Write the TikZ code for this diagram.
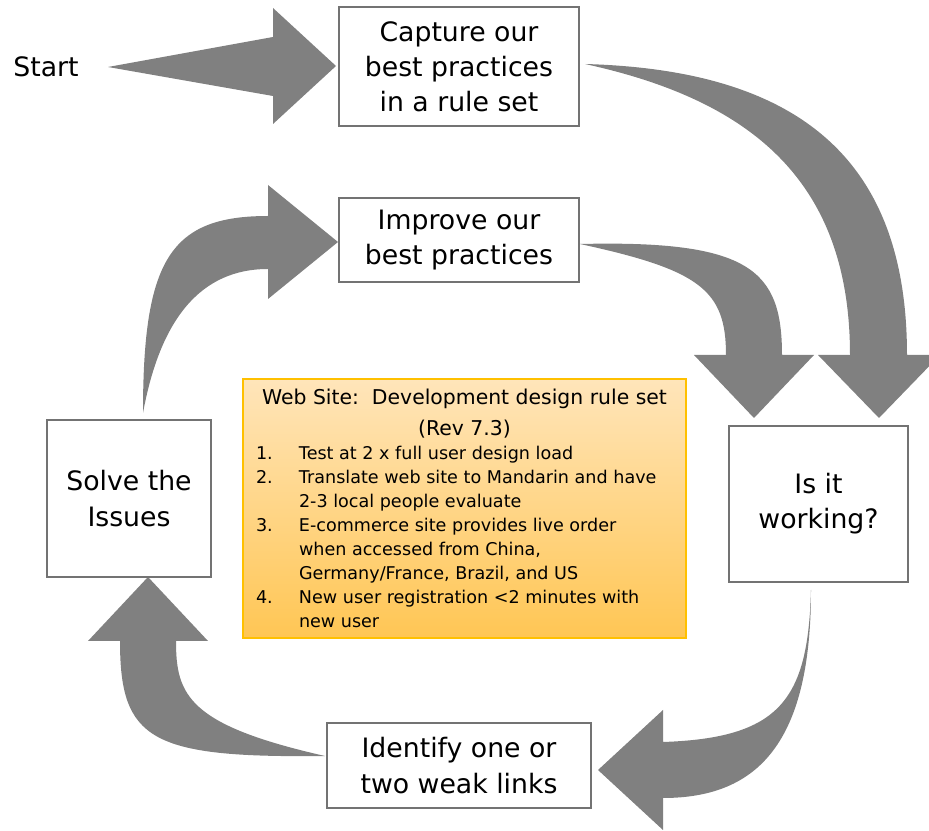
\documentclass[tikz,border=0pt]{standalone}
\usepackage{fontspec}
\setmainfont{DejaVu Sans}
\usepackage{tkz-euclide}

\definecolor{arrowgray}{RGB}{128,128,128}
\definecolor{boxline}{RGB}{115,115,115}
\definecolor{ruleTop}{RGB}{255,229,186}
\definecolor{ruleBot}{RGB}{255,198,84}
\definecolor{ruleLine}{RGB}{255,192,0}

\begin{document}
\begin{tikzpicture}[
  box/.style={draw=boxline,line width=.45pt,fill=white,align=center,inner sep=0pt,
    font=\fontsize{7.6}{10}\selectfont},
  txt/.style={inner sep=0pt,font=\fontsize{7.6}{10}\selectfont},
  rulebox/.style={draw=ruleLine,line width=.5pt,top color=ruleTop,bottom color=ruleBot,
    minimum width=4.43cm,minimum height=2.59cm,inner sep=0pt},
  blockarrow/.style={fill=arrowgray,draw=none}]
\useasboundingbox (0,0) rectangle (9.29,8.31);
\clip (0,0) rectangle (9.29,8.31);

\tkzDefPoint(0.46,7.64){tStart}
\tkzDefPoint(4.59,7.645){tCap}
\tkzDefPoint(4.59,5.91){tImp}
\tkzDefPoint(1.29,3.325){tSolve}
\tkzDefPoint(8.185,3.27){tWork}
\tkzDefPoint(4.59,0.655){tIdent}
\tkzDefPoint(4.645,3.225){tRules}

  \tkzDefPoint(1.08,7.64){sT}
  \tkzDefPoint(2.73,7.94){sA}
  \tkzDefPoint(2.73,8.23){sB}
  \tkzDefPoint(3.36,7.65){sTip}
  \tkzDefPoint(2.73,7.07){sC}
  \tkzDefPoint(2.73,7.35){sD}
\tkzFillPolygon[blockarrow](sT,sA,sB,sTip,sC,sD)

\tkzDefPoint(5.85,7.67){cT}
\tkzDefPoint(8.00,7.61){cO1}
\tkzDefPoint(9.07,6.71){cO2}
\tkzDefPoint(9.07,4.76){cO}
\tkzDefPoint(9.40,4.76){cHr}
\tkzDefPoint(8.79,4.13){cTip}
\tkzDefPoint(8.18,4.76){cHl}
\tkzDefPoint(8.50,4.76){cI}
\tkzDefPoint(8.50,6.51){cI1}
\tkzDefPoint(7.50,7.31){cI2}
  \fill[blockarrow] (cT) .. controls (cO1) and (cO2) .. (cO) -- (cHr) -- (cTip)
    -- (cHl) -- (cI) .. controls (cI1) and (cI2) .. (cT) -- cycle;

\tkzDefPoint(5.80,5.87){iT}
\tkzDefPoint(7.50,5.91){iO1}
\tkzDefPoint(7.82,5.61){iO2}
\tkzDefPoint(7.82,4.76){iO}
\tkzDefPoint(8.14,4.76){iHr}
\tkzDefPoint(7.54,4.13){iTip}
\tkzDefPoint(6.94,4.76){iHl}
\tkzDefPoint(7.26,4.76){iI}
\tkzDefPoint(7.26,5.41){iI1}
\tkzDefPoint(7.00,5.61){iI2}
  \fill[blockarrow] (iT) .. controls (iO1) and (iO2) .. (iO) -- (iHr) -- (iTip)
    -- (iHl) -- (iI) .. controls (iI1) and (iI2) .. (iT) -- cycle;

\tkzDefPoint(8.11,2.41){wT}
\tkzDefPoint(8.11,0.91){wO1}
\tkzDefPoint(7.60,0.33){wO2}
\tkzDefPoint(6.63,0.33){wO}
\tkzDefPoint(6.63,0.01){wHb}
\tkzDefPoint(5.98,0.61){wTip}
\tkzDefPoint(6.63,1.21){wHt}
\tkzDefPoint(6.63,0.89){wI}
\tkzDefPoint(7.80,0.93){wI1}
\tkzDefPoint(8.08,1.31){wI2}
  \fill[blockarrow] (wT) .. controls (wO1) and (wO2) .. (wO) -- (wHb) -- (wTip)
    -- (wHt) -- (wI) .. controls (wI1) and (wI2) .. (wT) -- cycle;

\tkzDefPoint(3.25,0.75){dT}
\tkzDefPoint(1.50,0.73){dO1}
\tkzDefPoint(1.20,0.91){dO2}
\tkzDefPoint(1.20,1.90){dO}
\tkzDefPoint(0.88,1.90){dHl}
\tkzDefPoint(1.48,2.54){dTip}
\tkzDefPoint(2.08,1.90){dHr}
\tkzDefPoint(1.76,1.90){dI}
\tkzDefPoint(1.76,1.36){dI1}
\tkzDefPoint(1.88,1.06){dI2}
  \fill[blockarrow] (dT) .. controls (dO1) and (dO2) .. (dO) -- (dHl) -- (dTip)
    -- (dHr) -- (dI) .. controls (dI1) and (dI2) .. (dT) -- cycle;

\tkzDefPoint(1.43,4.18){uT}
\tkzDefPoint(1.43,5.71){uO1}
\tkzDefPoint(1.70,6.15){uO2}
\tkzDefPoint(2.68,6.15){uO}
\tkzDefPoint(2.68,6.46){uHt}
\tkzDefPoint(3.38,5.89){uTip}
\tkzDefPoint(2.68,5.32){uHb}
\tkzDefPoint(2.68,5.62){uI}
\tkzDefPoint(2.00,5.62){uI1}
\tkzDefPoint(1.60,5.11){uI2}
  \fill[blockarrow] (uT) .. controls (uO1) and (uO2) .. (uO) -- (uHt) -- (uTip)
    -- (uHb) -- (uI) .. controls (uI1) and (uI2) .. (uT) -- cycle;

\node[txt] (start) at (tStart) {Start};
\node[box,minimum width=2.40cm,minimum height=1.19cm] (capture) at (tCap)
  {Capture our\\best practices\\in a rule set};
\node[box,minimum width=2.40cm,minimum height=0.84cm] (improve) at (tImp)
  {Improve our\\best practices};
\node[box,minimum width=1.64cm,minimum height=1.57cm] (solve) at (tSolve)
  {Solve the\\Issues};
\node[box,minimum width=1.79cm,minimum height=1.56cm] (working) at (tWork)
  {Is it\\working?};
\node[box,minimum width=2.64cm,minimum height=0.85cm] (identify) at (tIdent)
  {Identify one or\\two weak links};

\node[rulebox] (rules) at (tRules) {\parbox{4.17cm}{%
  \spaceskip=0pt\xspaceskip=0pt
  \centering\fontsize{5.8}{8.6}\selectfont
  Web Site:\ \ Development design rule set\\(Rev 7.3)\par
  \raggedright\fontsize{5}{6.83}\selectfont
  \makebox[.43cm][l]{1.}Test at 2 x full user design load\\
  \makebox[.43cm][l]{2.}Translate web site to Mandarin and have\\
  \hspace*{.43cm}2-3 local people evaluate\\
  \makebox[.43cm][l]{3.}E-commerce site provides live order\\
  \hspace*{.43cm}when accessed from China,\\
  \hspace*{.43cm}Germany/France, Brazil, and US\\
  \makebox[.43cm][l]{4.}New user registration <2 minutes with\\
  \hspace*{.43cm}new user\par}};

\end{tikzpicture}
\end{document}
